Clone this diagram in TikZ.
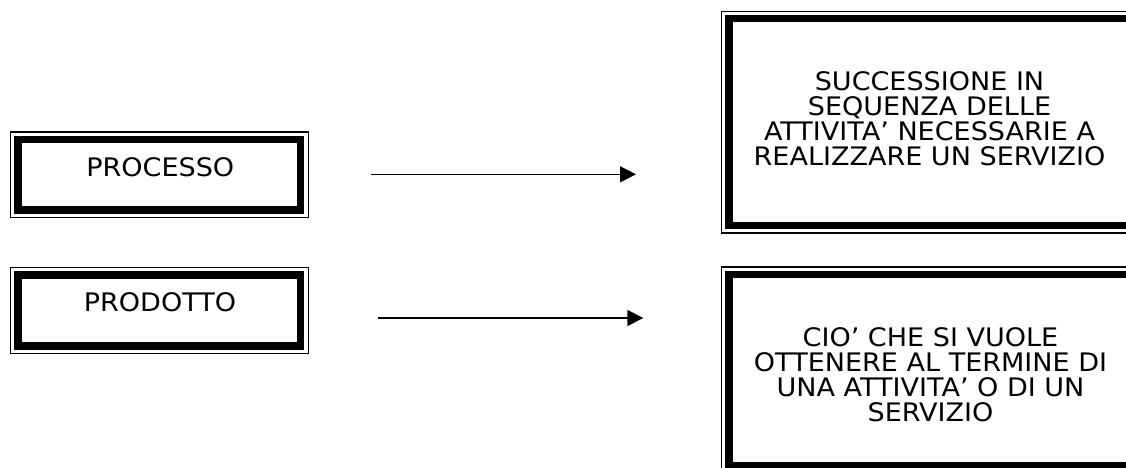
\documentclass[tikz,border=0pt]{standalone}
\usepackage{fontspec}
\setmainfont{DejaVu Sans}[FakeStretch=1.06]
\usetikzlibrary{arrows.meta}
\tikzset{
  frame/.style={draw, rectangle, line width=7.5pt, inner sep=0pt, outer sep=0pt},
  thinframe/.style={draw, line width=1.3pt},
  label text/.style={inner sep=0pt, anchor=base, font=\fontsize{25.5}{24.8}\selectfont},
  link/.style={line width=1.5pt, -{Triangle[length=16pt,width=16pt]}}
}
\begin{document}
\begin{tikzpicture}[x=1pt,y=-1pt]
\useasboundingbox (0,0) rectangle (1126,468);
\clip (0,0) rectangle (1126,468);
% boxes (thick band centre lines)
\node[frame, minimum width=282.5pt, minimum height=70.7pt] (b1) at (159.45,174.85) {};
\node[frame, minimum width=282.5pt, minimum height=71.4pt] (b2) at (159.45,310.5) {};
\node[frame, minimum width=400.8pt, minimum height=206.8pt] (b3) at (929.6,122.1) {};
\node[frame, minimum width=400.8pt, minimum height=191pt] (b4) at (929.6,370) {};
\foreach \n in {b1,b2,b3,b4}
  \draw[thinframe] ([shift={(-7.5,-7.5)}]\n.north west) rectangle ([shift={(7.5,7.5)}]\n.south east);
% texts
\node[label text] (t1) at (160.3,176.7) {PROCESSO};
\node[label text] (t2) at (160,311.7) {PRODOTTO};
\node[label text] (t3) at (929.5,90.7) {\vtop{\hsize=420pt\centering SUCCESSIONE IN\\SEQUENZA DELLE\\ATTIVITA’ NECESSARIE A\\REALIZZARE UN SERVIZIO}};
\node[label text] (t4) at (930.5,346.7) {\vtop{\hsize=420pt\centering CIO’ CHE SI VUOLE\\OTTENERE AL TERMINE DI\\UNA ATTIVITA’ O DI UN\\SERVIZIO}};
% arrows
\coordinate (a1s) at (371,174.3);
\coordinate (a1e) at (636,174.3);
\coordinate (a2s) at (378.3,318);
\coordinate (a2e) at (643.3,318);
\draw[link] (a1s) -- (a1e);
\draw[link] (a2s) -- (a2e);
\end{tikzpicture}
\end{document}
